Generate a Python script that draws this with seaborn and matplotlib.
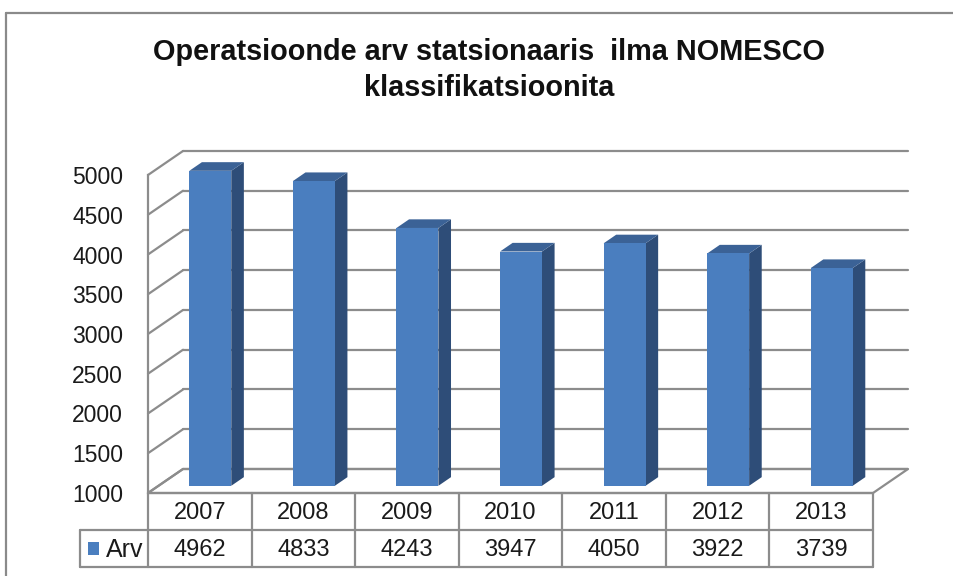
import numpy as np
import pandas as pd
import matplotlib
matplotlib.use("Agg")
import matplotlib.pyplot as plt
from matplotlib.patches import Polygon, Rectangle
from matplotlib.lines import Line2D
import seaborn as sns

# =============================
# Data
# =============================
years = ['2007', '2008', '2009', '2010', '2011', '2012', '2013']
counts = [4962, 4833, 4243, 3947, 4050, 3922, 3739]
series_name = 'Arv'
y_ticks = [1000, 1500, 2000, 2500, 3000, 3500, 4000, 4500, 5000]
title_lines = ['Operatsioonde arv statsionaaris  ilma NOMESCO', 'klassifikatsioonita']

# =============================
# Style
# =============================
sns.set_style('white')
plt.rcParams['font.family'] = ['Liberation Sans', 'DejaVu Sans']

FRONT = '#4a7ebf'
SIDE = '#2e4d78'
TOP = '#3b6296'
GRID = '#8c8c8c'
TXT = '#1a1a1a'
FS = 16.5

W, H = 954, 576
fig = plt.figure(figsize=(W / 100, H / 100), dpi=100)

# outer chart frame: only top and left edges are visible
fig.lines.append(Line2D([6 / W, 1.05], [1 - 13 / H, 1 - 13 / H], transform=fig.transFigure,
                        color='#8a8a8a', lw=1.6))
fig.lines.append(Line2D([6 / W, 6 / W], [-0.05, 1 - 13 / H], transform=fig.transFigure,
                        color='#8a8a8a', lw=1.6))

# main plot (front plane of the 3d box)
ax = fig.add_axes([148 / W, 1 - 493 / H, (873 - 148) / W, (493 - 175) / H])
ymin, ymax = y_ticks[0], y_ticks[-1]

df = pd.DataFrame({'year': years, 'count': counts})
sns.barplot(data=df, x='year', y='count', ax=ax, color=FRONT,
            saturation=1, width=0.405, edgecolor='none', linewidth=0, zorder=3)

ax.set_xlim(-0.5, len(years) - 0.5)
ax.set_ylim(ymin, ymax)

# depth of the 3d box in data units (full depth)
DX = 0.338
DY = 302
d0, d1 = 0.30, 0.66

# back wall gridlines + left wall diagonals
for v in y_ticks:
    ax.plot([-0.5 + DX, len(years) - 0.5 + DX], [v + DY, v + DY],
            color=GRID, lw=1.6, clip_on=False, zorder=1)
    ax.plot([-0.5, -0.5 + DX], [v, v + DY], color=GRID, lw=1.6,
            clip_on=False, zorder=1)

# floor
floor = Polygon([(-0.5, ymin), (len(years) - 0.5, ymin),
                 (len(years) - 0.5 + DX, ymin + DY), (-0.5 + DX, ymin + DY)],
                closed=True, fill=False, edgecolor=GRID, lw=1.6,
                clip_on=False, zorder=1)
ax.add_patch(floor)

# turn the flat bars into boxes
bars = list(ax.patches)[:len(years)]
for p in bars:
    x0 = p.get_x() + d0 * DX
    w = p.get_width()
    top = p.get_height() + d0 * DY
    bot = ymin + d0 * DY
    p.set_x(x0)
    p.set_y(bot)
    p.set_height(top - bot)
    p.set_clip_on(False)
    p.set_zorder(4)
    x1 = x0 + w
    ddx, ddy = (d1 - d0) * DX, (d1 - d0) * DY
    ax.add_patch(Polygon([(x1, bot), (x1 + ddx, bot + ddy), (x1 + ddx, top + ddy), (x1, top)],
                         closed=True, facecolor=SIDE, edgecolor='none',
                         clip_on=False, zorder=3))
    ax.add_patch(Polygon([(x0, top), (x1, top), (x1 + ddx, top + ddy), (x0 + ddx, top + ddy)],
                         closed=True, facecolor=TOP, edgecolor='none',
                         clip_on=False, zorder=3))

ax.set_yticks(y_ticks)
ax.set_yticklabels([str(t) for t in y_ticks], fontsize=FS, color=TXT)
ax.tick_params(axis='y', length=0, pad=18)
ax.set_xticks([])
ax.set_xlabel('')
ax.set_ylabel('')
for s in ['top', 'right', 'bottom']:
    ax.spines[s].set_visible(False)
ax.spines['left'].set_color(GRID)
ax.spines['left'].set_linewidth(1.6)
ax.set_facecolor('none')

# data table
tab = fig.add_axes([80 / W, 1 - 567 / H, (873 - 80) / W, (567 - 493) / H])
cat_px = (873 - 148) / len(years)
lab_w = (148 - 80) / cat_px
tab.set_xlim(-0.5 - lab_w, len(years) - 0.5)
tab.set_ylim(0, 2)
tab.axis('off')
kw = dict(color=GRID, lw=1.6, clip_on=False)
tab.plot([-0.5, len(years) - 0.5], [2, 2], **kw)
tab.plot([-0.5 - lab_w, len(years) - 0.5], [1, 1], **kw)
tab.plot([-0.5 - lab_w, len(years) - 0.5], [0, 0], **kw)
tab.plot([-0.5 - lab_w, -0.5 - lab_w], [0, 1], **kw)
for i in range(len(years) + 1):
    tab.plot([i - 0.5, i - 0.5], [0, 2], **kw)
for i, (yr, c) in enumerate(zip(years, counts)):
    tab.text(i, 1.47, yr, ha='center', va='center', fontsize=FS + 0.5, color=TXT)
    tab.text(i, 0.47, str(c), ha='center', va='center', fontsize=FS + 0.5, color=TXT)
tab.add_patch(Rectangle((-0.5 - lab_w + 8 / cat_px, 0.32), 11 / cat_px, 0.36,
                        facecolor=FRONT, edgecolor='none'))
tab.text(-0.5 - 0.04, 0.47, series_name, ha='right', va='center', fontsize=FS + 1.5,
         color=TXT)

# title
fig.text(489 / W, 1 - 52 / H, title_lines[0], ha='center', va='center',
         fontsize=20.8, fontweight='bold', color='#111111')
fig.text(489 / W, 1 - 88 / H, title_lines[1], ha='center', va='center',
         fontsize=20.8, fontweight='bold', color='#111111')

fig.savefig('out.png', dpi=100)
